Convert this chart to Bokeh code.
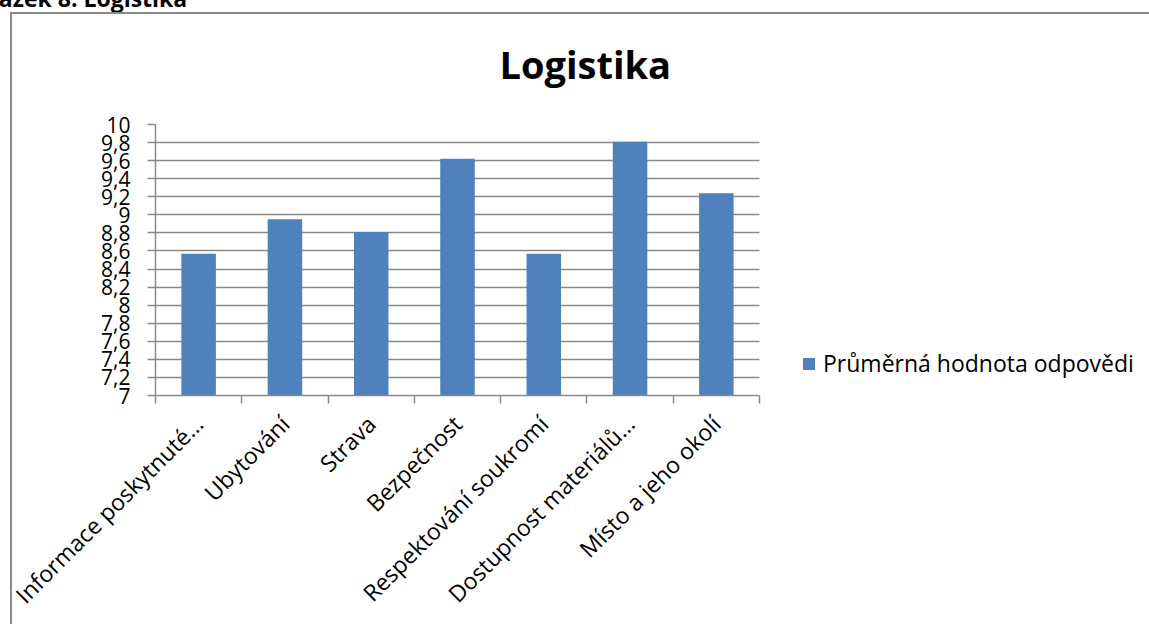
from bokeh.plotting import figure
from bokeh.models import (Range1d, FixedTicker, Title, Legend, LegendItem,
                          ColumnDataSource, InlineStyleSheet)
from bokeh.embed import file_html
from bokeh.resources import INLINE

categories = ["Informace poskytnuté…", "Ubytování", "Strava", "Bezpečnost",
              "Respektování soukromí", "Dostupnost materiálů…", "Místo a jeho okolí"]
values = [8.57, 8.95, 8.81, 9.62, 8.57, 9.81, 9.24]
series_name = "Průměrná hodnota odpovědi"
y_ticks = [7, 7.2, 7.4, 7.6, 7.8, 8, 8.2, 8.4, 8.6, 8.8, 9, 9.2, 9.4, 9.6, 9.8, 10]
y_tick_labels = ["7", "7,2", "7,4", "7,6", "7,8", "8", "8,2", "8,4", "8,6", "8,8",
                 "9", "9,2", "9,4", "9,6", "9,8", "10"]
chart_title = "Logistika"
caption = "Obrázek 8: Logistika"

FONT = "Open Sans"
GRID = "#8a8a8a"
BAR = "#4F81BD"

W, H = 1149, 624
PLOT_L, PLOT_R = 155, 759          # pixel extent of the category axis
n = len(categories)
# the frame reaches the right edge so that the legend (inside it) is not clipped;
# axis and grid are bounded to the categories
x_end = n * (W - PLOT_L) / (PLOT_R - PLOT_L)

xs = [i + 0.5 for i in range(n)]
src = ColumnDataSource(dict(x=xs, top=values, cat=categories))

p = figure(width=W, height=H, output_backend="svg", toolbar_location=None,
           title=None,
           x_range=Range1d(0, x_end), y_range=Range1d(7, 10),
           min_border_left=PLOT_L, min_border_right=0, min_border_top=0,
           min_border_bottom=229)
p.outline_line_color = None
p.background_fill_color = "white"
p.border_fill_color = "white"

bars = p.vbar(x="x", top="top", bottom=7, width=0.4, source=src, fill_color=BAR,
              line_color=None)

# y axis
yax = p.yaxis[0]
yax.ticker = FixedTicker(ticks=y_ticks)
yax.major_label_overrides = {t: l for t, l in zip(y_ticks, y_tick_labels)}
yax.axis_line_color = GRID
yax.axis_line_width = 1.5
yax.major_tick_line_color = GRID
yax.major_tick_line_width = 1.5
yax.major_tick_out = 8
yax.major_tick_in = 0
yax.minor_tick_line_color = None
yax.major_label_standoff = 17
yax.major_label_text_font = FONT
yax.major_label_text_font_size = "21px"
yax.major_label_text_color = "black"

# x axis
xax = p.xaxis[0]
xax.bounds = (0, n)
xax.ticker = FixedTicker(ticks=xs, minor_ticks=list(range(n + 1)))
xax.major_label_overrides = {x: c for x, c in zip(xs, categories)}
xax.major_label_orientation = 0.7853981634
xax.axis_line_color = GRID
xax.axis_line_width = 1.5
xax.major_tick_line_color = None
xax.minor_tick_line_color = GRID
xax.minor_tick_line_width = 1.5
xax.minor_tick_out = 8
xax.minor_tick_in = 0
xax.major_label_standoff = 16
xax.major_label_text_font = FONT
xax.major_label_text_font_size = "23px"
xax.major_label_text_color = "black"

p.xgrid.grid_line_color = None
p.ygrid.grid_line_color = GRID
p.ygrid.grid_line_width = 1.5
p.ygrid.cross_bounds = (0, n)

# legend
lg = Legend(items=[LegendItem(label=series_name, renderers=[bars])],
            location=(646, 16), border_line_color=None, background_fill_alpha=0,
            padding=0, margin=0, glyph_width=15, glyph_height=15, label_standoff=7,
            label_text_font=FONT, label_text_font_size="23px",
            label_text_color="black")
p.add_layout(lg)

# title (closest to frame) and cut-off caption (outermost)
p.add_layout(Title(text=chart_title, align="left", offset=344, standoff=70,
                   vertical_align="bottom", text_font=FONT, text_font_style="bold",
                   text_font_size="38px", text_color="black"), "above")
p.add_layout(Title(text=caption, align="left", offset=-200, standoff=-38,
                   vertical_align="top", text_font=FONT, text_font_style="bold",
                   text_font_size="23px", text_color="black"), "above")

# chart-area border (left and top edges visible)
p.stylesheets = [InlineStyleSheet(css=(
    ":host::after { content: ''; position: absolute; left: 10px; top: 12px; "
    "right: 0px; bottom: 0px; border-left: 2px solid #8a8a8a; "
    "border-top: 2px solid #8a8a8a; pointer-events: none; }"))]

open("out.html", "w").write(file_html(p, INLINE))
